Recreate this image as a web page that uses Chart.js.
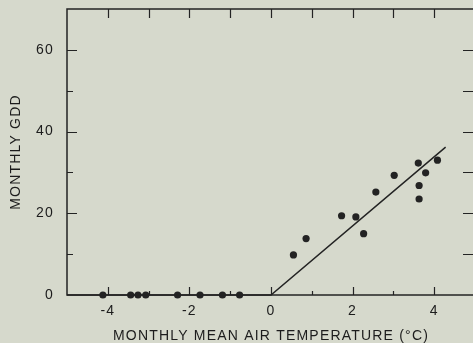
<!DOCTYPE html>
<html>
<head>
<meta charset="utf-8">
<script src="https://cdn.jsdelivr.net/npm/chart.js@4.4.1/dist/chart.umd.min.js"></script>
<style>
  html, body { margin: 0; padding: 0; overflow: hidden; background: #d6d9cc; }
  #wrap { width: 480px; height: 343px; }
</style>
</head>
<body>
<div id="wrap"><canvas id="gddChart" width="480" height="343"></canvas></div>
<script>
// months with mean temperature below zero (GDD = 0)
const coldTemps = [-4.12, -3.44, -3.26, -3.07, -2.29, -1.74, -1.19, -0.77];
const coldGdd = [0, 0, 0, 0, 0, 0, 0, 0];

// months above zero
const warmTemps = [0.55, 0.86, 1.73, 2.08, 2.27, 2.57, 3.02, 3.61, 3.63, 3.63, 3.79, 4.08];
const warmGdd = [9.8, 13.8, 19.4, 19.1, 15.0, 25.2, 29.3, 32.3, 26.8, 23.5, 29.9, 33.0];

// fitted line
const fitTemps = [-5, 0, 4.28];
const fitGdd = [0, 0, 36.2];

// axis ticks
const xTicks = [-4, -2, 0, 2, 4];
const xMinorTicks = [-4, -3, -2, -1, 0, 1, 2, 3, 4];
const yTicks = [0, 20, 40, 60];
const yMinorTicks = [10, 30, 50];

const INK = '#232323';
const TEXT = '#1c1c1c';
const FONT = "'Liberation Sans', Arial, sans-serif";

const toPoints = (xs, ys) => xs.map((x, i) => ({ x: x, y: ys[i] }));

// the printed lettering is a bit wider than Arial
const spacingPlugin = {
    id: 'spacing',
    beforeDraw(chart) { chart.ctx.letterSpacing = '1.2px'; },
    beforeLayout(chart) { chart.ctx.letterSpacing = '1.2px'; }
};

// frame with inward ticks, drawn from the chart's scales
const framePlugin = {
    id: 'frame',
    beforeDatasetsDraw(chart) {
        const { ctx, chartArea: a, scales: { x, y } } = chart;
        ctx.save();
        ctx.strokeStyle = INK;
        ctx.lineWidth = 1.5;
        ctx.strokeRect(a.left, a.top, a.right - a.left, a.bottom - a.top);

        ctx.lineWidth = 1.2;
        ctx.beginPath();
        xMinorTicks.forEach(v => {
            const px = Math.round(x.getPixelForValue(v)) + 0.5;
            const major = xTicks.includes(v);
            ctx.moveTo(px, a.bottom);
            ctx.lineTo(px, a.bottom - (major ? 8 : 4));
            ctx.moveTo(px, a.top);
            ctx.lineTo(px, a.top + 9);
        });
        yTicks.concat(yMinorTicks).forEach(v => {
            if (v === 0) return;
            const py = Math.round(y.getPixelForValue(v)) + 0.5;
            const major = yTicks.includes(v);
            ctx.moveTo(a.left, py);
            ctx.lineTo(a.left + (major ? 10 : 6), py);
            ctx.moveTo(a.right, py);
            ctx.lineTo(a.right - 12, py);
        });
        ctx.stroke();
        ctx.restore();
    }
};

document.addEventListener('DOMContentLoaded', () => {
    const ctx = document.getElementById('gddChart').getContext('2d');

    new Chart(ctx, {
        data: {
            datasets: [
                {
                    type: 'line',
                    data: toPoints(fitTemps, fitGdd),
                    borderColor: INK,
                    borderWidth: 1.5,
                    pointRadius: 0,
                    fill: false,
                    tension: 0,
                    clip: false
                },
                {
                    type: 'scatter',
                    data: toPoints(coldTemps, coldGdd),
                    backgroundColor: INK,
                    borderWidth: 0,
                    pointRadius: 3.6,
                    clip: false
                },
                {
                    type: 'scatter',
                    data: toPoints(warmTemps, warmGdd),
                    backgroundColor: INK,
                    borderWidth: 0,
                    pointRadius: 3.6,
                    clip: false
                }
            ]
        },
        options: {
            responsive: false,
            animation: false,
            layout: { padding: { top: 9, right: 5, left: 0, bottom: 0 } },
            plugins: { legend: { display: false }, tooltip: { enabled: false } },
            scales: {
                x: {
                    type: 'linear',
                    min: -5,
                    max: 5,
                    grid: { display: false },
                    border: { display: false },
                    afterBuildTicks: s => { s.ticks = xTicks.map(v => ({ value: v })); },
                    afterFit: s => { s.height = 48; s.paddingLeft = 0; s.paddingRight = 0; },
                    ticks: { color: TEXT, font: { family: FONT, size: 14 }, padding: 0, maxRotation: 0 },
                    title: {
                        display: true,
                        text: 'MONTHLY MEAN AIR TEMPERATURE (°C)',
                        color: TEXT,
                        font: { family: FONT, size: 14, lineHeight: 1 },
                        padding: 0
                    }
                },
                y: {
                    type: 'linear',
                    min: 0,
                    max: 70,
                    grid: { display: false },
                    border: { display: false },
                    afterBuildTicks: s => { s.ticks = yTicks.map(v => ({ value: v })); },
                    afterFit: s => { s.width = 67; s.paddingTop = 0; s.paddingBottom = 0; },
                    ticks: { color: TEXT, font: { family: FONT, size: 14 }, padding: 5 },
                    title: {
                        display: true,
                        text: 'MONTHLY GDD',
                        color: TEXT,
                        font: { family: FONT, size: 14 },
                        padding: 7.5
                    }
                }
            }
        },
        plugins: [spacingPlugin, framePlugin]
    });
});
</script>
</body>
</html>
